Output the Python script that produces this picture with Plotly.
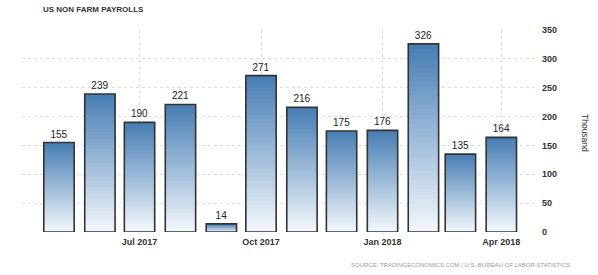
import plotly.graph_objects as go

months = ["2017-05-01", "2017-06-01", "2017-07-01", "2017-08-01", "2017-09-01", "2017-10-01",
          "2017-11-01", "2017-12-01", "2018-01-01", "2018-02-01", "2018-03-01", "2018-04-01"]
values = [155, 239, 190, 221, 14, 271, 216, 175, 176, 326, 135, 164]
tick_dates = ["2017-07-01", "2017-10-01", "2018-01-01", "2018-04-01"]
tick_labels = ["Jul 2017", "Oct 2017", "Jan 2018", "Apr 2018"]

DAY = 86400000
bar_w = 23 * DAY
N = 40
top_c = (70, 125, 180)
bot_c = (244, 248, 252)

fig = go.Figure()
for k in range(N):
    t = (k + 0.5) / N  # 0 bottom -> 1 top
    c = tuple(int(round(bot_c[i] + (top_c[i] - bot_c[i]) * t)) for i in range(3))
    # segments overlap slightly to avoid antialiasing seams
    fig.add_trace(go.Bar(
        x=months, y=[v * min(3, N - k) / N for v in values], base=[v * k / N for v in values],
        width=bar_w, marker=dict(color="rgb(%d,%d,%d)" % c, line=dict(width=0)),
        hoverinfo="skip", showlegend=False))

fig.add_trace(go.Bar(
    x=months, y=values, width=bar_w,
    marker=dict(color="rgba(0,0,0,0)", line=dict(color="#333333", width=1.6)),
    text=[str(v) for v in values], textposition="outside", cliponaxis=False,
    textfont=dict(family="Liberation Sans", size=10, color="#222222"),
    showlegend=False))

L, R, T, B = 22, 61, 30, 43
fig.update_layout(
    width=598, height=275, barmode="overlay",
    margin=dict(l=L, r=R, t=T, b=B),
    plot_bgcolor="white", paper_bgcolor="white",
    xaxis=dict(type="date", range=["2017-04-03", "2018-04-28"],
               tickvals=tick_dates, ticktext=tick_labels,
               showgrid=True, gridcolor="#dddddd", griddash="dot", gridwidth=1,
               ticks="outside", ticklen=1, tickcolor="#cccccc",
               tickfont=dict(family="Liberation Sans", size=9, color="#333333", weight="bold"),
               showline=False, zeroline=False),
    yaxis=dict(side="right", range=[0, 350], tickvals=[0, 50, 100, 150, 200, 250, 300, 350],
               showgrid=True, gridcolor="#dddddd", griddash="dot", gridwidth=1,
               tickfont=dict(family="Liberation Sans", size=9, color="#333333", weight="bold"),
               ticks="", ticklabelstandoff=4, zeroline=False, showline=False),
)

pw = 598 - L - R
ph = 275 - T - B

def px(x, y):
    return (x - L) / pw, (275 - B - y) / ph

anns = []
x, y = px(41, 10)
anns.append(dict(text="<b>US NON FARM PAYROLLS</b>", x=x, y=y, xref="paper", yref="paper",
                 showarrow=False, xanchor="left", yanchor="middle",
                 font=dict(family="Liberation Sans", size=8, color="#333333")))
x, y = px(585, 133)
anns.append(dict(text="Thousand", textangle=90, x=x, y=y, xref="paper", yref="paper",
                 showarrow=False, xanchor="center", yanchor="middle",
                 font=dict(family="Liberation Sans", size=8.5, color="#333333")))
x, y = px(572, 265)
anns.append(dict(text="SOURCE: TRADINGECONOMICS.COM | U.S. BUREAU OF LABOR STATISTICS",
                 x=x, y=y, xref="paper", yref="paper", showarrow=False,
                 xanchor="right", yanchor="middle",
                 font=dict(family="Liberation Sans", size=6, color="#999999")))
fig.update_layout(annotations=anns)

fig.write_html("out.html")
